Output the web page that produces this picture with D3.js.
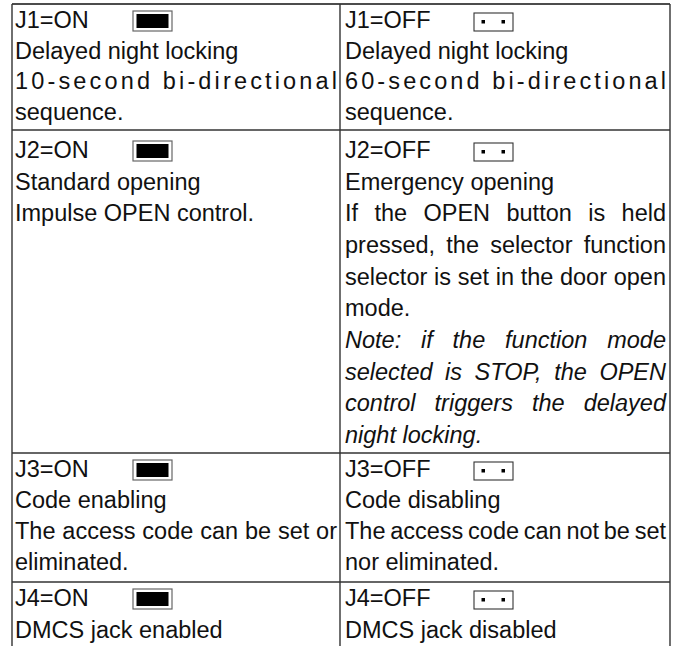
<!DOCTYPE html>
<html><head><meta charset="utf-8">
<script src="https://cdn.jsdelivr.net/npm/d3@7"></script>
<style>
html,body{margin:0;padding:0;background:#fff;}
text{font-family:"Liberation Sans",Arial,Helvetica,sans-serif;font-size:23.5px;fill:#111;}
</style></head><body>
<svg id="c" width="680" height="646"></svg>
<script>
// ---- data ----
const jumpers = ["J1", "J2", "J3", "J4"];
const onLines = [
  ["Delayed night locking", "10-second bi-directional", "sequence."],
  ["Standard opening", "Impulse OPEN control."],
  ["Code enabling", "The access code can be set or", "eliminated."],
  ["DMCS jack enabled"]
];
const offLines = [
  ["Delayed night locking", "60-second bi-directional", "sequence."],
  ["Emergency opening", "If the OPEN button is held", "pressed, the selector function", "selector is set in the door open", "mode."],
  ["Code disabling", "The access code can not be set", "nor eliminated."],
  ["DMCS jack disabled"]
];
const noteLines = ["Note: if the function mode", "selected is STOP, the OPEN", "control triggers the delayed", "night locking."];
// justification: "s" = spread letters, "w" = spread words, "" = none
const onJust  = [["", "s", ""], ["", ""], ["", "w", ""], [""]];
const offJust = [["", "s", ""], ["", "w", "w", "w", ""], ["", "w", ""], [""]];
const noteJust = ["w", "w", "w", ""];
const rowBorders = [4, 130, 453, 582];

// ---- layout ----
const svg = d3.select("#c");
const W = 680, H = 646;
const colX = d3.scaleOrdinal().domain(["on", "off", "end"]).range([12, 340, 670]);
const textX = { on: 15, off: 345 };
const textW = { on: 322, off: 321 };
const pitch = [30.7, 31.67, 31, 31.5];
const firstOff = [24, 28, 24, 24];

// grid lines
svg.append("line").attr("x1", colX("on")).attr("x2", colX("end")).attr("y1", rowBorders[0]).attr("y2", rowBorders[0])
  .attr("stroke", "#111").attr("stroke-width", 1.4);
rowBorders.slice(1).forEach(y => {
  svg.append("line").attr("x1", colX("on")).attr("x2", colX("end")).attr("y1", y).attr("y2", y)
    .attr("stroke", "#333").attr("stroke-width", 1.3);
});
["on", "off", "end"].forEach(k => {
  svg.append("line").attr("x1", colX(k)).attr("x2", colX(k)).attr("y1", rowBorders[0]).attr("y2", H)
    .attr("stroke", "#333").attr("stroke-width", 1.4);
});

function drawLine(x, y, w, str, just, italic) {
  const t = svg.append("text").attr("x", x).attr("y", y);
  if (italic) t.style("font-style", "italic");
  if (just === "s") {
    t.text(str).attr("textLength", w).attr("lengthAdjust", "spacing");
  } else if (just === "w") {
    const words = str.split(" ");
    const spans = words.map(wd => t.append("tspan").text(wd));
    const widths = spans.map(s => s.node().getComputedTextLength());
    const total = d3.sum(widths);
    const gap = (w - total) / (words.length - 1);
    let cx = x;
    spans.forEach((s, i) => { s.attr("x", cx); cx += widths[i] + gap; });
  } else {
    t.text(str);
  }
}

function jumperIcon(x, base, on) {
  if (on) {
    svg.append("rect").attr("x", x).attr("y", base - 17).attr("width", 39).attr("height", 20)
      .attr("fill", "#fff").attr("stroke", "#666").attr("stroke-width", 1.2);
    svg.append("rect").attr("x", x + 3.5).attr("y", base - 14).attr("width", 32).attr("height", 14)
      .attr("fill", "#000");
  } else {
    svg.append("rect").attr("x", x).attr("y", base - 15).attr("width", 39).attr("height", 18)
      .attr("fill", "#fff").attr("stroke", "#333").attr("stroke-width", 1.1);
    [9, 29].forEach(dx => svg.append("rect").attr("x", x + dx - 1.5).attr("y", base - 8).attr("width", 3.5).attr("height", 3.5).attr("fill", "#000"));
  }
}

jumpers.forEach((j, r) => {
  const top = rowBorders[r];
  const b0 = top + firstOff[r];
  const p = pitch[r];
  // ON column
  svg.append("text").attr("x", textX.on).attr("y", b0).text(j + "=ON");
  jumperIcon(133, b0, true);
  onLines[r].forEach((s, i) => drawLine(textX.on, b0 + (i + 1) * p, textW.on, s, onJust[r][i], false));
  // OFF column
  svg.append("text").attr("x", textX.off).attr("y", b0).text(j + "=OFF");
  jumperIcon(474, b0, false);
  offLines[r].forEach((s, i) => drawLine(textX.off, b0 + (i + 1) * p, textW.off, s, offJust[r][i], false));
  if (r === 1) {
    const nb = b0 + (offLines[r].length + 1) * p;
    noteLines.forEach((s, i) => drawLine(textX.off, nb + i * p, textW.off, s, noteJust[i], true));
  }
});
</script>
</body></html>
